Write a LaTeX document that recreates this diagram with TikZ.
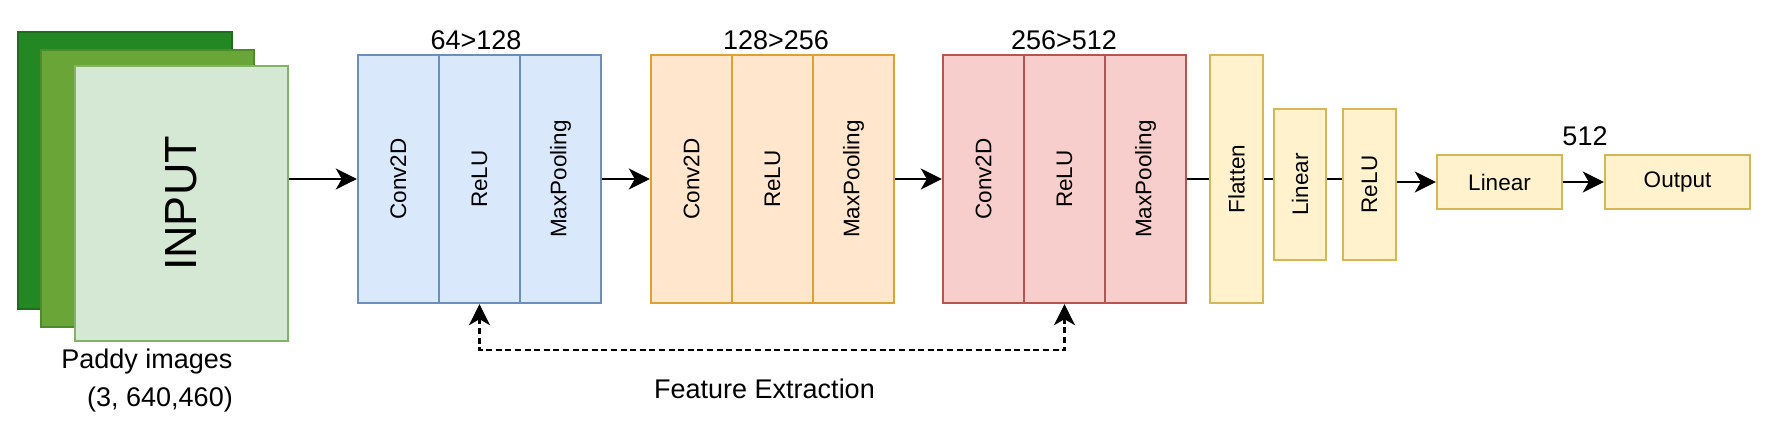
\documentclass[tikz,border=0pt]{standalone}
\usepackage{fontspec}
\setmainfont{Liberation Sans}
\usetikzlibrary{arrows.meta}
\definecolor{greenback}{HTML}{238823}
\definecolor{greenbackline}{HTML}{1D6D1D}
\definecolor{greenmid}{HTML}{6AA637}
\definecolor{greenmidline}{HTML}{4C8A2B}
\definecolor{greenfill}{HTML}{D5E8D4}
\definecolor{greenline}{HTML}{82B366}
\definecolor{bluefill}{HTML}{DAE8FC}
\definecolor{blueline}{HTML}{6C8EBF}
\definecolor{orangefill}{HTML}{FFE6CC}
\definecolor{orangeline}{HTML}{DCA033}
\definecolor{redfill}{HTML}{F8CECC}
\definecolor{redline}{HTML}{B85450}
\definecolor{yellowfill}{HTML}{FFF2CC}
\definecolor{yellowline}{HTML}{D6B656}
\begin{document}
\begin{tikzpicture}
    [x=0.5pt, y=-0.5pt, inner sep=0pt, line width=1.2pt,
     column/.style={draw, minimum width=40.5pt, minimum height=124pt,
       font=\fontsize{11.25}{13}\selectfont},
     bluecol/.style={column, draw=blueline, fill=bluefill},
     orangecol/.style={column, draw=orangeline, fill=orangefill},
     redcol/.style={column, draw=redline, fill=redfill},
     yellowcol/.style={column, draw=yellowline, fill=yellowfill},
     sizelabel/.style={anchor=base, font=\fontsize{13.5}{16}\selectfont},
     >={Stealth[length=10.5pt, width=10.5pt, inset=3pt]},
     link/.style={line width=1.15pt},
     flow/.style={link, ->}]
    \useasboundingbox (0, 0) rectangle (1773, 427);
    % input images
    \node (back) at (125, 170.5) [draw=greenbackline, fill=greenback,
      minimum width=107pt, minimum height=138.5pt] {};
    \node (middle) at (147.5, 188.5) [draw=greenmidline, fill=greenmid,
      minimum width=106.5pt, minimum height=138.5pt] {};
    \node (input) at (181.5, 203.5) [draw=greenline, fill=greenfill,
      minimum width=106.5pt, minimum height=137.5pt,
      font=\fontsize{22.5}{26}\selectfont] {\rotatebox{90}{INPUT}};
    \node (paddy) at (147, 368) [sizelabel] {Paddy images};
    \node (shape) at (160, 407) [sizelabel] {(3, 640,460)};
    % first block
    \node (c1) at (398.5, 179) [bluecol] {\rotatebox{90}{Conv2D}};
    \node (r1) at (479.5, 179) [bluecol] {\rotatebox{90}{ReLU}};
    \node (m1) at (560.5, 179) [bluecol] {\rotatebox{90}{MaxPooling}};
    \node (size1) at (476, 50) [sizelabel] {64>128};
    % second block
    \node (c2) at (691.5, 179) [orangecol] {\rotatebox{90}{Conv2D}};
    \node (r2) at (772.5, 179) [orangecol] {\rotatebox{90}{ReLU}};
    \node (m2) at (853.5, 179) [orangecol] {\rotatebox{90}{MaxPooling}};
    \node (size2) at (776, 50) [sizelabel] {128>256};
    % third block
    \node (c3) at (983.5, 179) [redcol] {\rotatebox{90}{Conv2D}};
    \node (r3) at (1064.5, 179) [redcol] {\rotatebox{90}{ReLU}};
    \node (m3) at (1145.5, 179) [redcol] {\rotatebox{90}{MaxPooling}};
    \node (size3) at (1064, 50) [sizelabel] {256>512};
    % classifier
    \node (flatten) at (1236.5, 179) [yellowcol, minimum width=26.5pt]
      {\rotatebox{90}{Flatten}};
    \node (linear1) at (1300, 184.5) [yellowcol, minimum width=26pt,
      minimum height=75.5pt] {\rotatebox{90}{Linear}};
    \node (relu) at (1369.5, 184.5) [yellowcol, minimum width=26.5pt,
      minimum height=75.5pt] {\rotatebox{90}{ReLU}};
    \node (linear2) at (1499.5, 182) [yellowcol, minimum width=62.5pt,
      minimum height=27pt] {Linear};
    \node (output) at (1677.5, 182) [yellowcol, minimum width=72.5pt,
      minimum height=27pt] {Output};
    \node (width) at (1585, 146) [sizelabel] {512};
    \node (feature) at (764.5, 399) [sizelabel] {Feature Extraction};
    % connectors
    \draw [flow] (input.east |- c1.west) to (c1.west);
    \draw [flow] (m1) to (c2);
    \draw [flow] (m2) to (c3);
    \draw [link] (m3) to (flatten);
    \draw [link] (flatten.east) to (flatten.east -| linear1.west);
    \draw [link] (linear1.east |- flatten.east) to (relu.west |- flatten.east);
    \draw [flow] (relu.east |- linear2.west) to (linear2.west);
    \draw [flow] (linear2) to (output);
    \draw [link, dash pattern=on 3pt off 1.8pt, <->]
      (r1.south) -- ++(0, 46) -| (r3.south);
  \end{tikzpicture}
\end{document}
